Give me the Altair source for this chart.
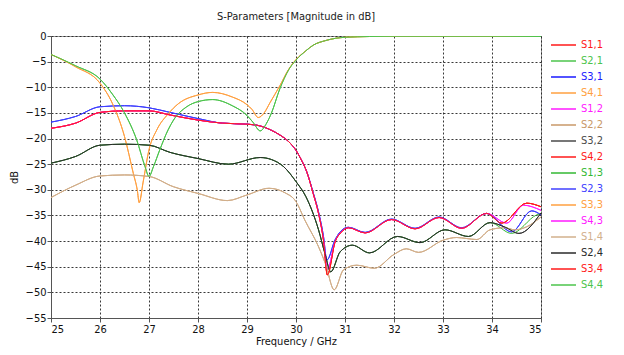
import altair as alt
import pandas as pd

# ---------------- data ----------------
SERIES = ["S1,1", "S2,1", "S3,1", "S4,1", "S1,2", "S2,2", "S3,2", "S4,2",
          "S1,3", "S2,3", "S3,3", "S4,3", "S1,4", "S2,4", "S3,4", "S4,4"]
COLORS = ["#ff1a1a", "#4cc44c", "#1a1aff", "#ffa040", "#ff1aff", "#c89868",
          "#4a4a4a", "#ff1a1a", "#33b833", "#4040ff", "#ffa040", "#ff1aff",
          "#d2b08c", "#2a2a2a", "#ff1a1a", "#4cc44c"]

X_TICKS = [25, 26, 27, 28, 29, 30, 31, 32, 33, 34, 35]
Y_TICKS = [0, -5, -10, -15, -20, -25, -30, -35, -40, -45, -50, -55]

# green curve (S2,1 / S4,4)
GREEN_A_F = [25.0, 25.5, 26.0, 26.25, 26.5, 26.75, 26.92, 27.0, 27.09, 27.22,
             27.39, 27.5, 27.77, 28.0, 28.3, 28.7, 29.0, 29.12, 29.27, 29.4,
             29.5, 29.67, 29.85, 30.0, 30.2, 30.35, 30.6, 31.0, 31.5, 32.0,
             33.0, 34.0, 35.0]
GREEN_A_DB = [-3.6, -5.8, -8.4, -11.3, -15.0, -20.3, -25.5, -27.4, -25.5, -22.2,
              -18.3, -16.4, -13.8, -12.8, -12.4, -13.6, -15.5, -16.8, -18.5, -17.0,
              -15.0, -10.3, -6.6, -4.7, -2.9, -1.8, -0.9, -0.25, -0.1, -0.05,
              -0.05, -0.05, -0.1]

# orange curve (S4,1 / S3,3)
ORANGE_F = [25.0, 25.5, 26.0, 26.25, 26.5, 26.68, 26.76, 26.8, 26.88, 27.0,
            27.16, 27.39, 27.6, 28.0, 28.3, 28.7, 29.0, 29.1, 29.23, 29.35,
            29.47, 29.67, 29.85, 30.0, 30.2, 30.35, 30.6, 31.0, 31.5, 32.0,
            33.0, 34.0, 35.0]
ORANGE_DB = [-3.6, -6.0, -9.2, -13.1, -19.6, -26.8, -30.0, -32.5, -28.5, -22.2,
             -18.3, -15.2, -13.2, -11.5, -11.0, -11.9, -13.4, -14.3, -15.9, -15.0,
             -13.0, -9.7, -6.5, -4.6, -2.9, -1.8, -0.9, -0.25, -0.1, -0.05,
             -0.05, -0.05, -0.1]

# red curve (S1,1 / S4,2 / S3,4)
RED_F = [25.0, 25.5, 26.0, 26.5, 27.0, 27.43, 28.0, 28.5, 29.0, 29.25,
         29.5, 29.67, 29.85, 30.0, 30.1, 30.22, 30.35, 30.46, 30.56, 30.64,
         30.8, 30.92, 31.07, 31.41, 31.95, 32.43, 32.92, 33.38, 33.89, 34.2,
         34.71, 35.0]
RED_DB = [-18.0, -17.0, -14.9, -14.6, -14.6, -15.4, -16.4, -17.0, -17.2, -17.5,
          -18.4, -19.3, -20.6, -22.3, -24.0, -26.5, -30.7, -34.6, -39.8, -46.6,
          -40.1, -38.3, -37.4, -38.4, -35.8, -37.6, -35.4, -37.5, -34.6, -36.5,
          -32.6, -33.3]

# magenta curve (S1,2 / S4,3)
MAG_F = [25.0, 25.5, 26.0, 26.5, 27.0, 27.43, 28.0, 28.5, 29.0, 29.25,
         29.5, 29.67, 29.85, 30.0, 30.1, 30.22, 30.35, 30.46, 30.56, 30.64,
         30.8, 30.92, 31.07, 31.41, 31.95, 32.43, 32.92, 33.38, 33.89, 34.3,
         34.64, 35.0]
MAG_DB = [-18.0, -17.0, -14.9, -14.6, -14.6, -15.4, -16.4, -17.0, -17.2, -17.5,
          -18.4, -19.3, -20.6, -22.3, -24.0, -26.5, -30.7, -34.6, -39.6, -45.5,
          -40.0, -38.2, -37.4, -38.4, -35.8, -37.6, -35.4, -37.5, -34.6, -36.5,
          -33.0, -34.0]

# blue curve (S3,1 / S2,3)
BLUE_F = [25.0, 25.5, 26.0, 26.5, 27.0, 27.43, 28.0, 28.5, 29.0, 29.25,
          29.5, 29.67, 29.85, 30.0, 30.1, 30.22, 30.35, 30.46, 30.56, 30.63,
          30.8, 30.92, 31.07, 31.41, 31.95, 32.43, 32.92, 33.38, 33.89, 34.4,
          34.81, 35.0]
BLUE_DB = [-16.8, -15.7, -13.8, -13.6, -14.0, -14.9, -16.1, -17.0, -17.2, -17.5,
           -18.4, -19.3, -20.6, -22.3, -24.0, -26.5, -30.5, -34.3, -39.0, -43.7,
           -39.7, -38.0, -37.3, -38.3, -35.7, -37.5, -35.3, -37.4, -34.6, -38.2,
           -34.1, -34.9]

# black curve (S3,2 / S2,4)
BLACK_F = [25.0, 25.5, 26.0, 26.5, 27.0, 27.43, 28.0, 28.62, 29.27, 29.5,
           29.75, 30.0, 30.2, 30.46, 30.59, 30.71, 30.9, 31.15, 31.5, 32.07,
           32.53, 33.04, 33.52, 33.96, 34.27, 34.55, 35.0]
BLACK_DB = [-24.8, -23.5, -21.3, -21.1, -21.3, -22.7, -23.9, -25.0, -23.7, -24.1,
            -25.5, -28.4, -31.3, -37.8, -42.4, -46.0, -42.1, -40.8, -42.3, -39.1,
            -40.3, -37.8, -39.1, -36.4, -37.3, -38.5, -34.5]

# green curve following the black one (S1,3)
GREEN_E_F = [25.0, 25.5, 26.0, 26.5, 27.0, 27.43, 28.0, 28.62, 29.27, 29.5,
             29.75, 30.0, 30.2, 30.46, 30.59, 30.71, 30.9, 31.15, 31.5, 32.07,
             32.53, 33.04, 33.52, 33.96, 34.4, 34.91, 35.0]
GREEN_E_DB = [-24.8, -23.5, -21.3, -21.1, -21.3, -22.7, -23.9, -25.0, -23.7, -24.1,
              -25.5, -28.4, -31.3, -37.8, -42.4, -46.0, -42.1, -40.8, -42.3, -39.1,
              -40.3, -37.8, -39.1, -36.4, -38.5, -34.9, -34.6]

# tan curve (S2,2 / S1,4)
TAN_F = [25.0, 25.5, 26.0, 26.5, 27.0, 27.5, 28.0, 28.6, 29.0, 29.45,
         29.78, 30.0, 30.18, 30.46, 30.6, 30.78, 30.97, 31.24, 31.6, 32.0,
         32.25, 32.5, 33.01, 33.28, 33.48, 33.69, 33.96, 34.25, 34.47, 34.71,
         35.0]
TAN_DB = [-31.5, -29.1, -27.3, -27.1, -27.4, -29.4, -30.7, -32.1, -31.0, -29.7,
          -30.6, -32.3, -35.9, -41.1, -44.4, -49.5, -45.6, -44.7, -45.3, -42.6,
          -41.5, -42.2, -39.8, -39.3, -39.5, -39.7, -37.8, -37.4, -37.8, -37.2,
          -35.3]

CURVES = {
    "S1,1": (RED_F, RED_DB), "S2,1": (GREEN_A_F, GREEN_A_DB),
    "S3,1": (BLUE_F, BLUE_DB), "S4,1": (ORANGE_F, ORANGE_DB),
    "S1,2": (MAG_F, MAG_DB), "S2,2": (TAN_F, TAN_DB),
    "S3,2": (BLACK_F, BLACK_DB), "S4,2": (RED_F, RED_DB),
    "S1,3": (GREEN_E_F, GREEN_E_DB), "S2,3": (BLUE_F, BLUE_DB),
    "S3,3": (ORANGE_F, ORANGE_DB), "S4,3": (MAG_F, MAG_DB),
    "S1,4": (TAN_F, TAN_DB), "S2,4": (BLACK_F, BLACK_DB),
    "S3,4": (RED_F, RED_DB), "S4,4": (GREEN_A_F, GREEN_A_DB),
}

rows = []
for k, name in enumerate(SERIES):
    fs, ds = CURVES[name]
    assert len(fs) == len(ds), name
    for f, d in zip(fs, ds):
        rows.append({"s": name, "k": k, "f": f, "db": d})
df = pd.DataFrame(rows)

FONT = "Tahoma, 'DejaVu Sans Condensed', 'DejaVu Sans', sans-serif"

chart = alt.Chart(df).mark_line(strokeWidth=1, interpolate="monotone", clip=True).encode(
    x=alt.X("f:Q",
            scale=alt.Scale(domain=[25, 35], nice=False, zero=False),
            axis=alt.Axis(values=X_TICKS, format="d", title="Frequency / GHz")),
    y=alt.Y("db:Q",
            scale=alt.Scale(domain=[-55, 0], nice=False, zero=False),
            axis=alt.Axis(values=Y_TICKS, format="d", title="dB")),
    color=alt.Color("s:N",
                    scale=alt.Scale(domain=SERIES, range=COLORS),
                    sort=SERIES,
                    legend=alt.Legend(
                        title=None, orient="none", legendX=499, legendY=1,
                        symbolType="stroke", symbolSize=625, symbolStrokeWidth=1.5,
                        clipHeight=16, rowPadding=0, padding=0,
                        labelFont=FONT, labelFontSize=11, labelOffset=4,
                        labelColor=alt.ExprRef(expr="scale('color', datum.value)"))),
    detail="s:N",
    order=alt.Order("k:Q"),
).properties(
    width=490, height=282,
    background="white",
    title=alt.TitleParams("S-Parameters [Magnitude in dB]", font=FONT, fontSize=11,
                          fontWeight="normal", color="#222222", anchor="middle", offset=8),
    autosize=alt.AutoSizeParams(type="none"),
    padding={"left": 43, "top": 28, "right": 75, "bottom": 29},
).configure_view(
    stroke="#9a9a9a", strokeWidth=1
).configure_axis(
    labelFont=FONT, labelFontSize=11, labelColor="#111111",
    titleFont=FONT, titleFontSize=11, titleFontWeight="normal", titleColor="#111111",
    domainColor="#555555", tickColor="#555555", tickSize=4, labelPadding=1,
    grid=True, gridColor="#222222", gridDash=[2, 2], gridOpacity=0.9, gridWidth=1,
).configure_axisX(
    titlePadding=1
).configure_axisY(
    titlePadding=6
)

chart.save("out.html", embed_options={"renderer": "svg", "actions": False})
